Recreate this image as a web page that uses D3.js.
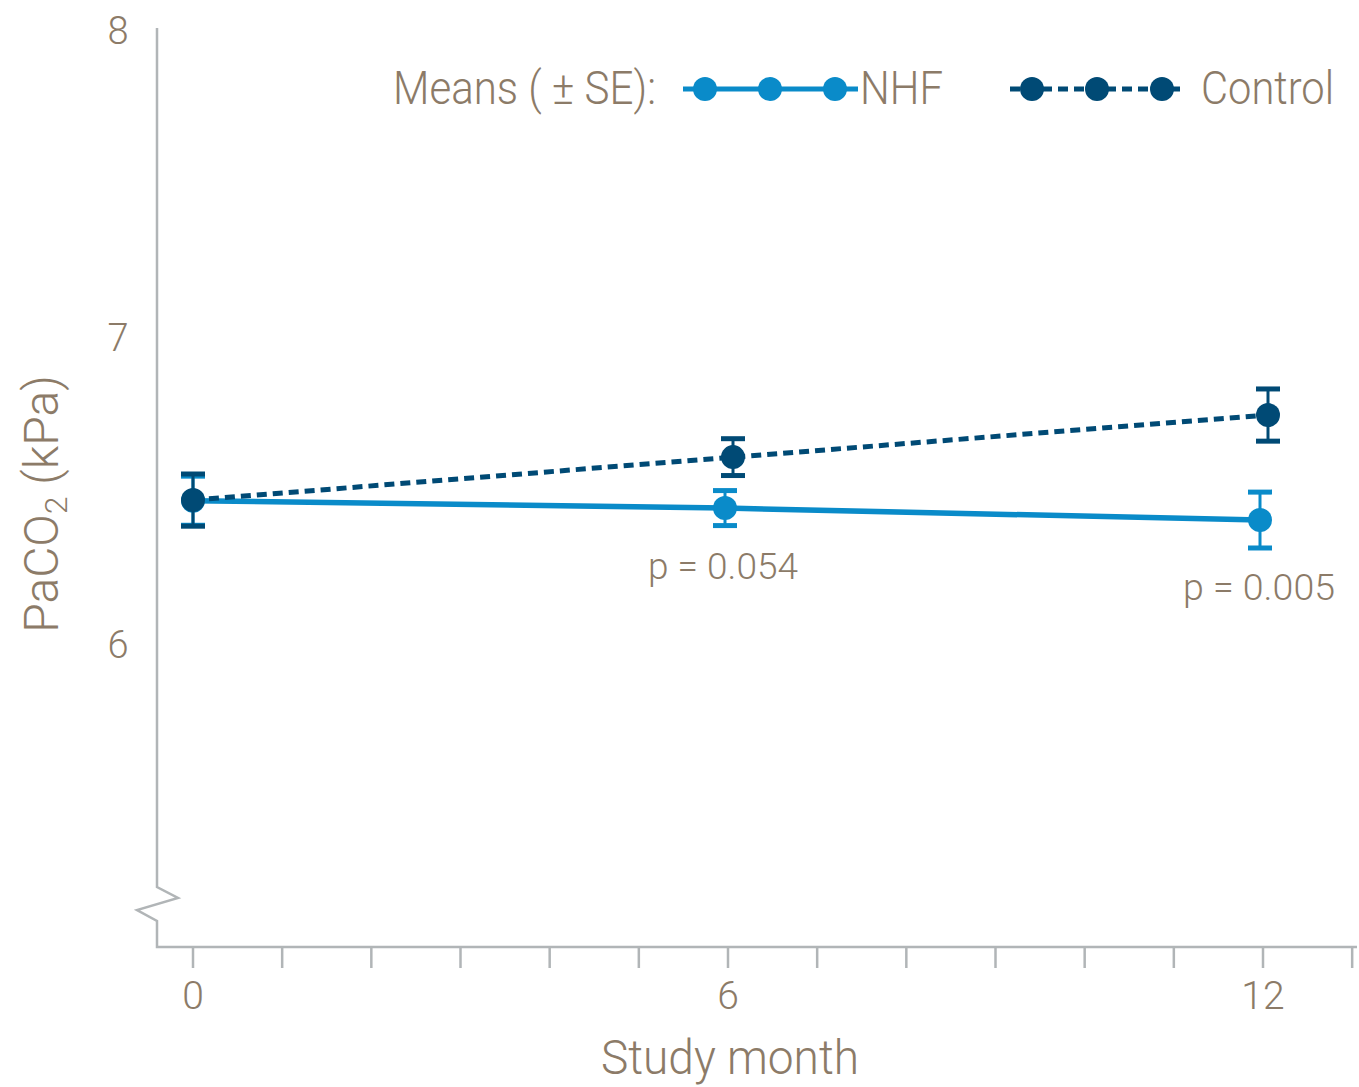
<!DOCTYPE html>
<html>
<head>
<meta charset="utf-8">
<script src="https://cdn.jsdelivr.net/npm/d3@7"></script>
<style>
  body { margin: 0; background: #fff; }
  text { font-family: Roboto, "Liberation Sans", sans-serif; font-weight: 300; fill: #8c7b68; }
</style>
</head>
<body>
<script>
// chart data
var months = [0, 6, 12];
var nhfMean = [6.47, 6.446, 6.407];
var nhfSE = [0.08, 0.057, 0.091];
var controlMean = [6.472, 6.612, 6.749];
var controlSE = [0.085, 0.06, 0.085];
var yTicks = [6, 7, 8];
var xTicks = d3.range(0, 14);
var xLabels = [0, 6, 12];
var pValues = ["p = 0.054", "p = 0.005"];

var width = 1359,
    height = 1087;

var textColor = "#8c7b68",
    axisColor = "#b1b5b7",
    nhfColor = "#0a8bc9",
    controlColor = "#004a75";

var svg = d3.select("body")
    .append("svg")
    .attr("width", width)
    .attr("height", height);

//scales
var x = d3.scaleLinear().domain([0, 12]).range([193, 1263]);
var y = d3.scaleLinear().domain([5, 8]).range([952, 31]);

var axisBottomY = 947,
    axisLeftX = 157;

//y axis with break
svg.append("path")
    .attr("d", "M" + axisLeftX + "," + (y(8) - 3) + "V887L178,898L137,910L" + axisLeftX + ",921V" + axisBottomY + "H1357")
    .attr("fill", "none")
    .attr("stroke", axisColor)
    .attr("stroke-width", 2.5);

//x ticks
svg.selectAll(".xtick")
    .data(xTicks)
    .enter()
    .append("line")
    .attr("class", "xtick")
    .attr("x1", function(d) { return x(d); })
    .attr("x2", function(d) { return x(d); })
    .attr("y1", axisBottomY)
    .attr("y2", axisBottomY + 21)
    .attr("stroke", axisColor)
    .attr("stroke-width", 2.5);

svg.selectAll(".xlabel")
    .data(xLabels)
    .enter()
    .append("text")
    .attr("class", "xlabel")
    .attr("x", function(d) { return x(d); })
    .attr("y", 1009)
    .attr("text-anchor", "middle")
    .attr("font-size", 39)
    .text(function(d) { return d; });

svg.selectAll(".ylabel")
    .data(yTicks)
    .enter()
    .append("text")
    .attr("class", "ylabel")
    .attr("x", 118)
    .attr("y", function(d) { return y(d) + 13; })
    .attr("text-anchor", "middle")
    .attr("font-size", 38)
    .text(function(d) { return d; });

//axis titles
svg.append("text")
    .attr("x", 730)
    .attr("y", 1074)
    .attr("text-anchor", "middle")
    .attr("font-size", 48)
    .attr("textLength", 258)
    .attr("lengthAdjust", "spacingAndGlyphs")
    .text("Study month");

var yTitle = svg.append("text")
    .attr("transform", "translate(58,504) rotate(-90)")
    .attr("text-anchor", "middle")
    .attr("font-size", 48);
yTitle.append("tspan").text("PaCO");
yTitle.append("tspan").attr("font-size", 32).attr("dy", 9).text("2");
yTitle.append("tspan").attr("dy", -9).text(" (kPa)");

//series
var nhfData = months.map(function(m, i) { return { m: m, v: nhfMean[i], se: nhfSE[i], dx: m > 0 ? -3 : 0 }; });
var controlData = months.map(function(m, i) { return { m: m, v: controlMean[i], se: controlSE[i], dx: m > 0 ? 5 : 0 }; });

var line = d3.line()
    .x(function(d) { return x(d.m) + d.dx; })
    .y(function(d) { return y(d.v); });

svg.append("path")
    .datum(nhfData)
    .attr("d", line)
    .attr("fill", "none")
    .attr("stroke", nhfColor)
    .attr("stroke-width", 5.5);

svg.append("path")
    .datum(controlData)
    .attr("d", line)
    .attr("fill", "none")
    .attr("stroke", controlColor)
    .attr("stroke-width", 5)
    .attr("stroke-dasharray", "10,6");

function drawSeries(data, color, cls) {
    var g = svg.selectAll("." + cls)
        .data(data)
        .enter()
        .append("g")
        .attr("class", cls)
        .attr("transform", function(d) { return "translate(" + (x(d.m) + d.dx) + ",0)"; });

    g.append("line")
        .attr("y1", function(d) { return y(d.v + d.se); })
        .attr("y2", function(d) { return y(d.v - d.se); })
        .attr("stroke", color)
        .attr("stroke-width", 3);

    g.append("line")
        .attr("x1", -12).attr("x2", 12)
        .attr("y1", function(d) { return y(d.v + d.se); })
        .attr("y2", function(d) { return y(d.v + d.se); })
        .attr("stroke", color)
        .attr("stroke-width", 5);

    g.append("line")
        .attr("x1", -12).attr("x2", 12)
        .attr("y1", function(d) { return y(d.v - d.se); })
        .attr("y2", function(d) { return y(d.v - d.se); })
        .attr("stroke", color)
        .attr("stroke-width", 5);

    g.append("circle")
        .attr("cy", function(d) { return y(d.v); })
        .attr("r", 12)
        .attr("fill", color);
}

drawSeries(nhfData, nhfColor, "nhf");
drawSeries(controlData, controlColor, "control");

//p value labels under NHF points
svg.append("text")
    .attr("x", 723).attr("y", 579)
    .attr("text-anchor", "middle")
    .attr("font-size", 37)
    .attr("textLength", 150)
    .attr("lengthAdjust", "spacingAndGlyphs")
    .text(pValues[0]);

svg.append("text")
    .attr("x", 1259).attr("y", 600)
    .attr("text-anchor", "middle")
    .attr("font-size", 37)
    .attr("textLength", 152)
    .attr("lengthAdjust", "spacingAndGlyphs")
    .text(pValues[1]);

//legend
var legendY = 89;
svg.append("text")
    .attr("x", 393).attr("y", 104)
    .attr("font-size", 47)
    .attr("textLength", 263)
    .attr("lengthAdjust", "spacingAndGlyphs")
    .text("Means ( \u00b1 SE):");

svg.append("line")
    .attr("x1", 683).attr("x2", 858)
    .attr("y1", legendY).attr("y2", legendY)
    .attr("stroke", nhfColor).attr("stroke-width", 5);
svg.selectAll(".legNhf")
    .data([705, 770, 835])
    .enter().append("circle")
    .attr("class", "legNhf")
    .attr("cx", function(d) { return d; })
    .attr("cy", legendY)
    .attr("r", 12)
    .attr("fill", nhfColor);
svg.append("text")
    .attr("x", 860).attr("y", 104)
    .attr("font-size", 47)
    .attr("textLength", 83)
    .attr("lengthAdjust", "spacingAndGlyphs")
    .text("NHF");

svg.append("line")
    .attr("x1", 1010).attr("x2", 1183)
    .attr("y1", legendY).attr("y2", legendY)
    .attr("stroke", controlColor).attr("stroke-width", 5)
    .attr("stroke-dasharray", "10,6");
svg.selectAll(".legControl")
    .data([1032, 1097, 1162])
    .enter().append("circle")
    .attr("class", "legControl")
    .attr("cx", function(d) { return d; })
    .attr("cy", legendY)
    .attr("r", 12)
    .attr("fill", controlColor);
svg.append("text")
    .attr("x", 1201).attr("y", 104)
    .attr("font-size", 47)
    .attr("textLength", 133)
    .attr("lengthAdjust", "spacingAndGlyphs")
    .text("Control");
</script>
</body>
</html>
